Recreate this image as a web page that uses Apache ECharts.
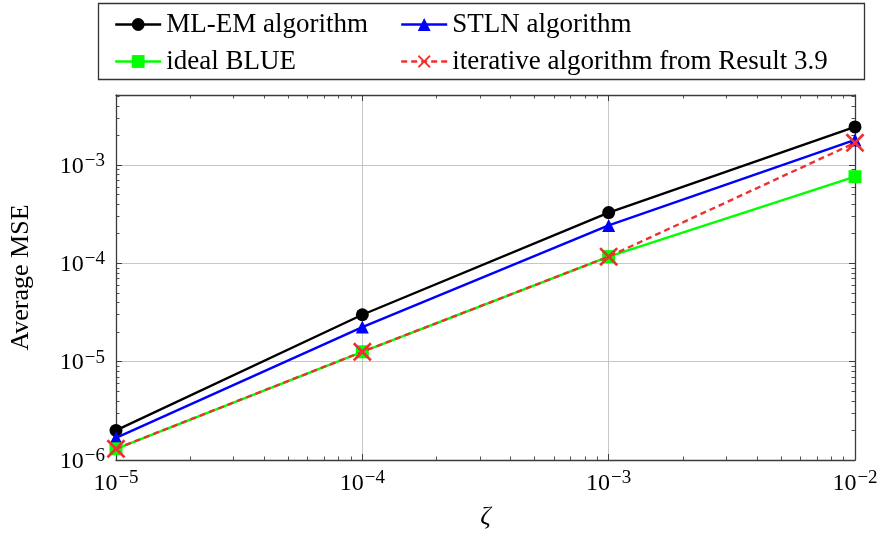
<!DOCTYPE html>
<html>
<head>
<meta charset="utf-8">
<script src="https://cdn.jsdelivr.net/npm/echarts@6/dist/echarts.min.js"></script>
<style>html,body{margin:0;padding:0;background:#fff}#c{width:882px;height:540px}</style>
</head>
<body>
<div id="c"></div>
<script>
// ---- data ----
var zeta = [1e-5, 1e-4, 1e-3, 1e-2];
var mlem = [2.0e-6, 3.0e-5, 3.28e-4, 2.44e-3];
var stln = [1.68e-6, 2.25e-5, 2.43e-4, 1.80e-3];
var blue = [1.30e-6, 1.26e-5, 1.17e-4, 7.6e-4];
var iter = [1.30e-6, 1.26e-5, 1.17e-4, 1.68e-3];
var seriesNames = ['ML-EM algorithm', 'STLN algorithm', 'ideal BLUE', 'iterative algorithm from Result 3.9'];
var xMajor = [1e-5, 1e-4, 1e-3, 1e-2];
var yMajor = [1e-6, 1e-5, 1e-4, 1e-3];
var xRange = [1e-5, 1e-2];
var yRange = [1e-6, 5.15e-3];
var xName = 'ζ';
var yName = 'Average MSE';

function minorsOf(lo, hi) {
  var out = [];
  for (var e = Math.floor(Math.log10(lo)); e <= Math.ceil(Math.log10(hi)); e++) {
    for (var m = 2; m <= 9; m++) {
      var v = m * Math.pow(10, e);
      if (v > lo * 1.0001 && v < hi * 0.9999) out.push(v);
    }
  }
  return out;
}
var xMinor = minorsOf(xRange[0], xRange[1]);
var yMinor = minorsOf(yRange[0], yRange[1]);

var FONT = 'Liberation Serif';
var rich = {
  b: {fontFamily: FONT, fontSize: 24, color: '#000', lineHeight: 27, verticalAlign: 'bottom'},
  s: {fontFamily: FONT, fontSize: 19, color: '#000', lineHeight: 27, verticalAlign: 'top', padding: [0, 0, 0, 1]}
};
function powLabel(v) {
  var e = Math.round(Math.log10(v));
  return '{b|10}{s|\u2212' + Math.abs(e) + '}';
}
var AXC = '#3c3c3c';

function axisSet(isX) {
  var rng = isX ? xRange : yRange;
  var maj = isX ? xMajor : yMajor;
  var mnr = isX ? xMinor : yMinor;
  var pos = isX ? ['bottom', 'top'] : ['left', 'right'];
  var base = {type: 'log', logBase: 10, min: rng[0], max: rng[1], gridIndex: 0};
  var arr = [];
  // grid lines only (default decade ticks)
  arr.push(Object.assign({}, base, {
    position: pos[0], z: 0,
    axisLine: {show: false},
    axisTick: {show: false},
    axisLabel: {show: false},
    splitLine: {show: true, lineStyle: {color: '#c6c6c6', width: 1}}
  }));
  // main: axis line, major ticks, labels
  arr.push(Object.assign({}, base, {
    position: pos[0], z: 1,
    axisLine: {show: true, onZero: false, lineStyle: {color: AXC, width: 1.3}},
    axisTick: {show: true, inside: true, length: 6, customValues: maj, lineStyle: {color: AXC, width: 1}},
    axisLabel: {show: true, customValues: maj, formatter: powLabel, rich: rich, margin: isX ? 9 : 11},
    splitLine: {show: false},
    name: isX ? xName : yName,
    nameLocation: 'middle',
    nameGap: isX ? 44 : 82,
    nameRotate: isX ? 0 : 90,
    nameTextStyle: {fontFamily: FONT, fontSize: 26, color: '#000', fontStyle: isX ? 'italic' : 'normal'}
  }));
  // minor ticks
  arr.push(Object.assign({}, base, {
    position: pos[0], z: 1,
    axisLine: {show: false},
    axisTick: {show: true, inside: true, length: 3.5, customValues: mnr, lineStyle: {color: AXC, width: 0.9}},
    axisLabel: {show: false},
    splitLine: {show: false}
  }));
  // mirrored side
  arr.push(Object.assign({}, base, {
    position: pos[1], z: 1,
    axisLine: {show: true, onZero: false, lineStyle: {color: AXC, width: 1.3}},
    axisTick: {show: true, inside: true, length: 6, customValues: maj, lineStyle: {color: AXC, width: 1}},
    axisLabel: {show: false},
    splitLine: {show: false}
  }));
  arr.push(Object.assign({}, base, {
    position: pos[1], z: 1,
    axisLine: {show: false},
    axisTick: {show: true, inside: true, length: 3.5, customValues: mnr, lineStyle: {color: AXC, width: 0.9}},
    axisLabel: {show: false},
    splitLine: {show: false}
  }));
  return arr;
}

function pairs(xs, ys) { return xs.map(function (x, i) { return [x, ys[i]]; }); }

var crossPath = 'path://M0,1 L1,0 L5,4 L9,0 L10,1 L6,5 L10,9 L9,10 L5,6 L1,10 L0,9 L4,5 Z';
var LW = 2.4;
var legendText = {fontFamily: FONT, fontSize: 27, color: '#000', lineHeight: 26};

var option = {
  animation: false,
  backgroundColor: '#fff',
  grid: {left: 114.5, right: 27, top: 95, bottom: 80, containLabel: false},
  xAxis: axisSet(true),
  yAxis: axisSet(false),
  legend: [
    {data: [seriesNames[0], seriesNames[2]], orient: 'vertical', left: 109, top: 6, itemWidth: 46, itemHeight: 16, itemGap: 10,
     lineStyle: {width: LW}, textStyle: legendText},
    {data: [seriesNames[1], seriesNames[3]], orient: 'vertical', left: 395, top: 6, itemWidth: 46, itemHeight: 16, itemGap: 10,
     lineStyle: {width: LW}, textStyle: legendText}
  ],
  graphic: [{
    type: 'rect', z: 10, silent: true,
    shape: {x: 98.5, y: 3.5, width: 766, height: 76},
    style: {fill: 'none', stroke: '#333', lineWidth: 1.3}
  }],
  series: [
    {name: seriesNames[0], type: 'line', data: pairs(zeta, mlem), symbol: 'circle', symbolSize: 13,
     lineStyle: {color: '#000', width: LW}, itemStyle: {color: '#000'}, z: 3},
    {name: seriesNames[1], type: 'line', data: pairs(zeta, stln), symbol: 'triangle', symbolSize: 13,
     lineStyle: {color: '#0000ff', width: LW}, itemStyle: {color: '#0000ff'}, z: 4},
    {name: seriesNames[2], type: 'line', data: pairs(zeta, blue), symbol: 'rect', symbolSize: 13,
     lineStyle: {color: '#00ff00', width: LW}, itemStyle: {color: '#00ff00'}, z: 5},
    {name: seriesNames[3], type: 'line', data: pairs(zeta, iter), symbol: crossPath, symbolSize: 19,
     lineStyle: {color: '#ee3030', width: LW, type: [6, 4]}, itemStyle: {color: '#ee3030'}, z: 6}
  ]
};
var chart = echarts.init(document.getElementById('c'), null, {renderer: 'canvas'});
chart.setOption(option);
</script>
</body>
</html>
